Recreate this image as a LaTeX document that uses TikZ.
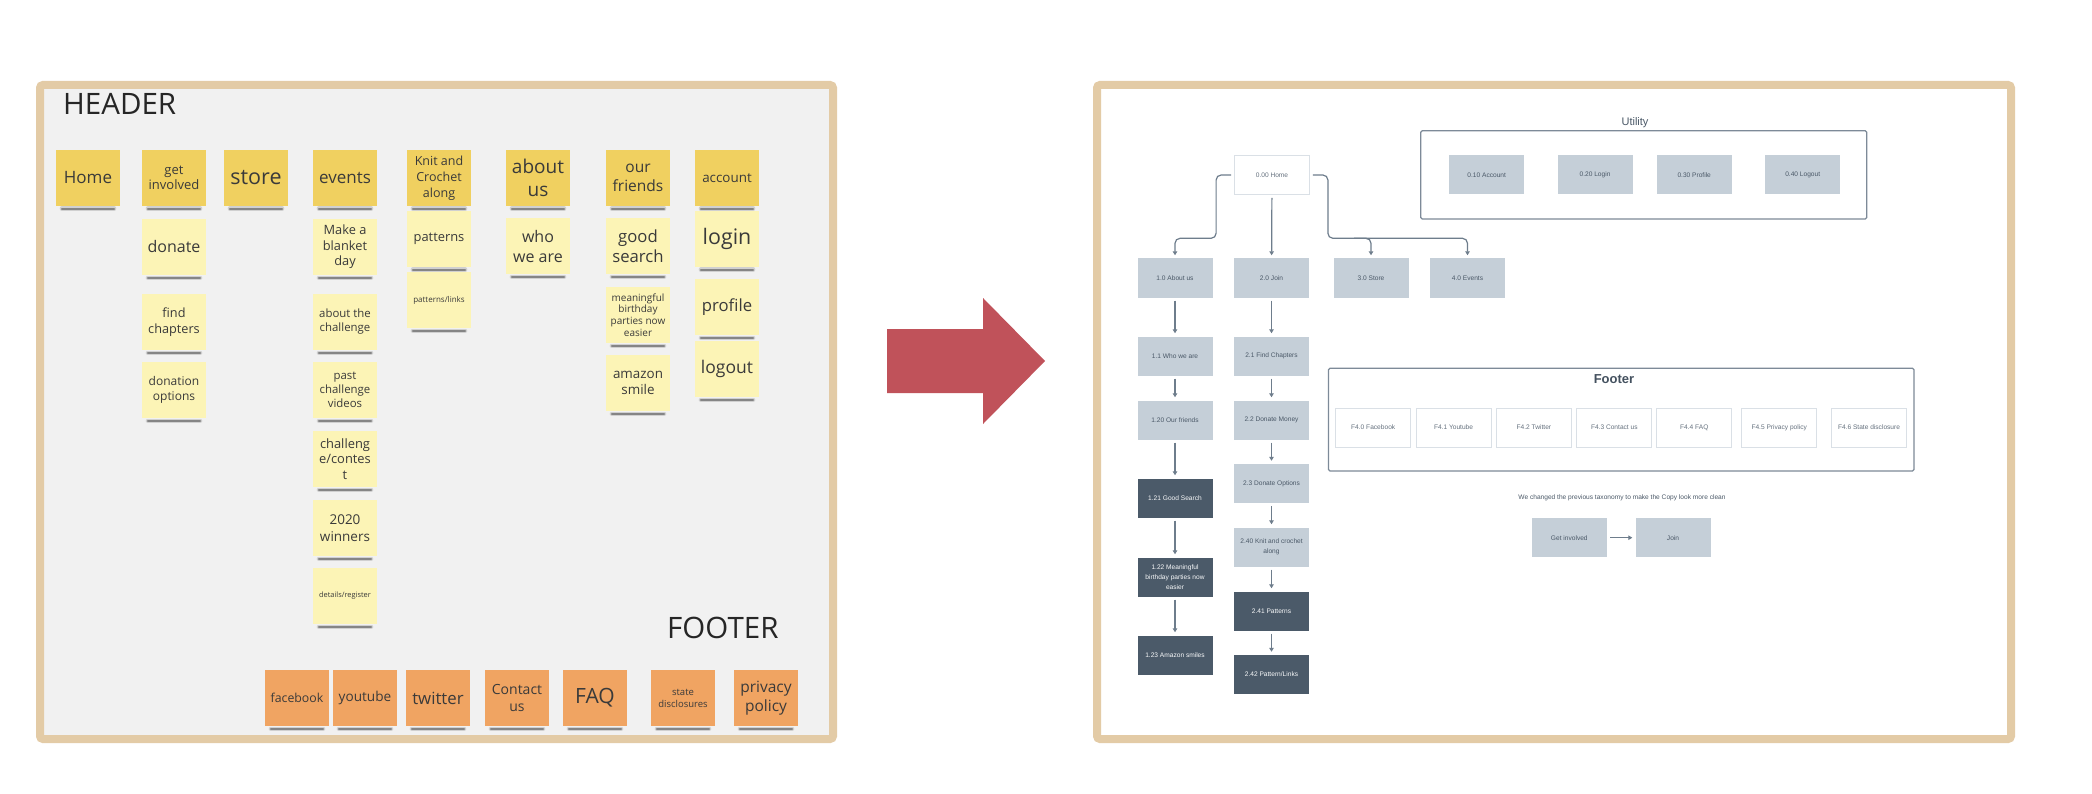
\documentclass[tikz,border=0pt]{standalone}
\usepackage{fontspec}
\newfontfamily\notefont{Open Sans}
\newfontfamily\sitefont{Liberation Sans}
\usetikzlibrary{arrows.meta}
\definecolor{boardframe}{RGB}{227,203,166}
\definecolor{boardbg}{RGB}{241,241,241}
\definecolor{headyellow}{RGB}{240,208,96}
\definecolor{subyellow}{RGB}{252,244,182}
\definecolor{footorange}{RGB}{240,164,98}
\definecolor{notetext}{RGB}{58,58,58}
\definecolor{shadowgray}{RGB}{60,60,60}
\definecolor{bigred}{RGB}{192,82,90}
\definecolor{palebox}{RGB}{197,207,216}
\definecolor{darkbox}{RGB}{75,90,105}
\definecolor{slate}{RGB}{74,88,103}
\definecolor{boxline}{RGB}{218,224,230}
\definecolor{linkcol}{RGB}{110,125,140}
\definecolor{panelline}{RGB}{125,138,152}
\newcommand\ntsz[2]{\notefont\fontsize{#1}{#2}\selectfont}
\newcommand\pgsz[2]{\sitefont\fontsize{#1}{#2}\selectfont}

\begin{document}
\begin{tikzpicture}[x=1pt, y=-1pt,
  note/.style={minimum width=64, minimum height=56, inner sep=1, align=center, text=notetext,
    append after command={([xshift=6pt,yshift=-2.4pt]\tikzlastnode.south west) edge[noteshadow] ([xshift=-6pt,yshift=-2.4pt]\tikzlastnode.south east)}},
  noteshadow/.style={draw=shadowgray, line width=2, opacity=.5, line cap=round,
    preaction={draw=shadowgray, line width=4.2, opacity=.18, line cap=round}},
  hnote/.style={note, fill=headyellow},
  snote/.style={note, fill=subyellow},
  fnote/.style={note, fill=footorange},
  board/.style={draw=boardframe, line width=8, rounded corners=3},
  pg/.style={minimum width=75, minimum height=39, inner sep=1, align=center, font=\pgsz{6.6}{10}},
  pgpale/.style={pg, fill=palebox, text=slate},
  pgdark/.style={pg, fill=darkbox, text=white!90!palebox},
  pgwhite/.style={pg, fill=white, draw=boxline, line width=.8, text=slate!85},
  link/.style={draw=linkcol, line width=1.2, -{Triangle[width=4.5pt,length=4pt]}, shorten <=3pt, shorten >=3pt},
  panel/.style={draw=panelline, line width=1.2, rounded corners=1.5}]
  \useasboundingbox (0,0) rectangle (2092,794);

  \draw[board, fill=boardbg] (40,85) rectangle (833,739);
  \draw[board, fill=white] (1097,85) rectangle (2011,739);
  \fill[bigred] (887,329) -- (983,329) -- (983,298) -- (1045,361) -- (983,424) -- (983,393) -- (887,393) -- cycle;

  \node[anchor=base west, inner sep=0, font=\ntsz{29.5}{32}, text=black!85] (header) at (63,115) {HEADER};
  \node[anchor=base west, inner sep=0, font=\ntsz{29.5}{32}, text=black!85] (footer) at (667,638) {FOOTER};

  \node[hnote, font=\ntsz{17}{20}] (hHome) at (88,178) {Home};
  \node[hnote, font=\ntsz{13}{15}] (hInvolved) at (174,178) {get\\involved};
  \node[hnote, font=\ntsz{21.5}{24}] (hStore) at (256,178) {store};
  \node[hnote, font=\ntsz{17}{20}] (hEvents) at (345,178) {events};
  \node[hnote, font=\ntsz{12.5}{16}] (hKnit) at (439,178) {Knit and\\Crochet\\along};
  \node[hnote, font=\ntsz{19}{23}] (hAbout) at (538,178) {about\\us};
  \node[hnote, font=\ntsz{15.5}{19}] (hFriends) at (638,178) {our\\friends};
  \node[hnote, font=\ntsz{13.4}{16}] (hAccount) at (727,178) {account};

  \node[snote, font=\ntsz{16}{19}] (sDonate) at (174,247) {donate};
  \node[snote, font=\ntsz{12.7}{16}] (sChapters) at (174,322) {find\\chapters};
  \node[snote, font=\ntsz{12}{15}] (sOptions) at (174,390) {donation\\options};

  \node[snote, font=\ntsz{12.8}{15.5}] (sBlanket) at (345,247) {Make a\\blanket\\day};
  \node[snote, font=\ntsz{11.4}{14}] (sChallenge) at (345,322) {about the\\challenge};
  \node[snote, font=\ntsz{11.4}{14}] (sVideos) at (345,390) {past\\challenge\\videos};
  \node[snote, font=\ntsz{12.9}{15.5}] (sContest) at (345,459) {challeng\\e/contes\\t};
  \node[snote, font=\ntsz{13.5}{16.7}] (sWinners) at (345,528) {2020\\winners};
  \node[snote, font=\ntsz{7.4}{9}] (sRegister) at (345,596) {details/register};

  \node[snote, font=\ntsz{12.9}{15}] (sPatterns) at (439,239) {patterns};
  \node[snote, font=\ntsz{8}{10}] (sLinks) at (439,300) {patterns/links};

  \node[snote, font=\ntsz{16}{20}] (sWho) at (538,246) {who\\we are};

  \node[snote, font=\ntsz{16.7}{20}] (sSearch) at (638,246) {good\\search};
  \node[snote, font=\ntsz{10}{11.7}] (sBirthday) at (638,315) {meaningful\\birthday\\parties now\\easier};
  \node[snote, font=\ntsz{13.4}{16}] (sSmile) at (638,383) {amazon\\smile};

  \node[snote, font=\ntsz{21.4}{24}] (sLogin) at (727,239) {login};
  \node[snote, font=\ntsz{16.7}{20}] (sProfile) at (727,307) {profile};
  \node[snote, font=\ntsz{17.5}{20}] (sLogout) at (727,369) {logout};

  \node[fnote, font=\ntsz{12.3}{15}] (fFacebook) at (297,698) {facebook};
  \node[fnote, font=\ntsz{13.6}{16}] (fYoutube) at (365,698) {youtube};
  \node[fnote, font=\ntsz{16.8}{20}] (fTwitter) at (438,698) {twitter};
  \node[fnote, font=\ntsz{14}{17.7}] (fContact) at (517,698) {Contact\\us};
  \node[fnote, font=\ntsz{21}{24}] (fFaq) at (595,698) {FAQ};
  \node[fnote, font=\ntsz{9.5}{12}] (fState) at (683,698) {state\\disclosures};
  \node[fnote, font=\ntsz{15.5}{19}] (fPrivacy) at (766,698) {privacy\\policy};

  \node[pgwhite] (wHome) at (1272,175) {0.00 Home};
  \node[pgpale] (wAbout) at (1175,278) {1.0 About us};
  \node[pgpale] (wJoin) at (1271.5,278) {2.0 Join};
  \node[pgpale] (wStore) at (1371,278) {3.0 Store};
  \node[pgpale] (wEvents) at (1467.5,278) {4.0 Events};

  \node[pgpale] (wWho) at (1175,356) {1.1 Who we are};
  \node[pgpale] (wFriends) at (1175,420) {1.20 Our friends};
  \node[pgdark] (wSearch) at (1175,498) {1.21 Good Search};
  \node[pgdark] (wBirthday) at (1175,577) {1.22 Meaningful\\birthday parties now\\easier};
  \node[pgdark] (wSmiles) at (1175,655) {1.23 Amazon smiles};

  \node[pgpale] (wChapters) at (1271.5,356) {2.1 Find Chapters};
  \node[pgpale] (wMoney) at (1271.5,420) {2.2 Donate Money};
  \node[pgpale] (wOptions) at (1271.5,483.5) {2.3 Donate Options};
  \node[pgpale] (wKnit) at (1271.5,547) {2.40 Knit and crochet\\along};
  \node[pgdark] (wPatterns) at (1271.5,611) {2.41 Patterns};
  \node[pgdark] (wLinks) at (1271.5,674.5) {2.42 Pattern/Links};

  \draw[link] (wHome) -- (wJoin);
  \draw[link, rounded corners=5] (wHome.west) -- ++(-18,0) |- ([yshift=20pt]wAbout.north) -- (wAbout.north);
  \draw[link, rounded corners=5] (wHome.east) -- ++(18,0) |- ([yshift=20pt]wStore.north) -- (wStore.north);
  \draw[link, rounded corners=5] ([xshift=-20pt,yshift=20pt]wStore.north) -| (wEvents.north);
  \draw[link] (wAbout) -- (wWho);
  \draw[link] (wWho) -- (wFriends);
  \draw[link] (wFriends) -- (wSearch);
  \draw[link] (wSearch) -- (wBirthday);
  \draw[link] (wBirthday) -- (wSmiles);
  \draw[link] (wJoin) -- (wChapters);
  \draw[link] (wChapters) -- (wMoney);
  \draw[link] (wMoney) -- (wOptions);
  \draw[link] (wOptions) -- (wKnit);
  \draw[link] (wKnit) -- (wPatterns);
  \draw[link] (wPatterns) -- (wLinks);

  \draw[panel] (1420.7,130.7) rectangle (1866.7,219);
  \node[font=\pgsz{11}{13}, text=slate] (utility) at (1635,123) {Utility};
  \node[pgpale] (wAccount) at (1486.7,175) {0.10 Account};
  \node[pgpale] (wLogin) at (1595,175) {0.20 Login};
  \node[pgpale] (wProfile) at (1694.2,175) {0.30 Profile};
  \node[pgpale] (wLogout) at (1802.7,175) {0.40 Logout};

  \draw[panel] (1328.4,368.3) rectangle (1914,471);
  \node[font=\pgsz{13}{15}\bfseries, text=darkbox!90!black] (wFooter) at (1614,379) {Footer};
  \node[pgwhite] (wFacebook) at (1373.2,427.5) {F4.0 Facebook};
  \node[pgwhite] (wYoutube) at (1453.5,427.5) {F4.1 Youtube};
  \node[pgwhite] (wTwitter) at (1533.9,427.5) {F4.2 Twitter};
  \node[pgwhite] (wContact) at (1614.3,427.5) {F4.3 Contact us};
  \node[pgwhite] (wFaq) at (1694.3,427.5) {F4.4 FAQ};
  \node[pgwhite] (wPrivacy) at (1779.2,427.5) {F4.5 Privacy policy};
  \node[pgwhite] (wState) at (1869,427.5) {F4.6 State disclosure};

  \node[font=\pgsz{6.6}{8}, text=slate] (caption) at (1622,498) {We changed the previous taxonomy to make the Copy look more clean};
  \node[pgpale] (wGetInvolved) at (1569.3,537.7) {Get involved};
  \node[pgpale] (wJoinNew) at (1673,537.7) {Join};
  \draw[link] (wGetInvolved) -- (wJoinNew);
\end{tikzpicture}
\end{document}
